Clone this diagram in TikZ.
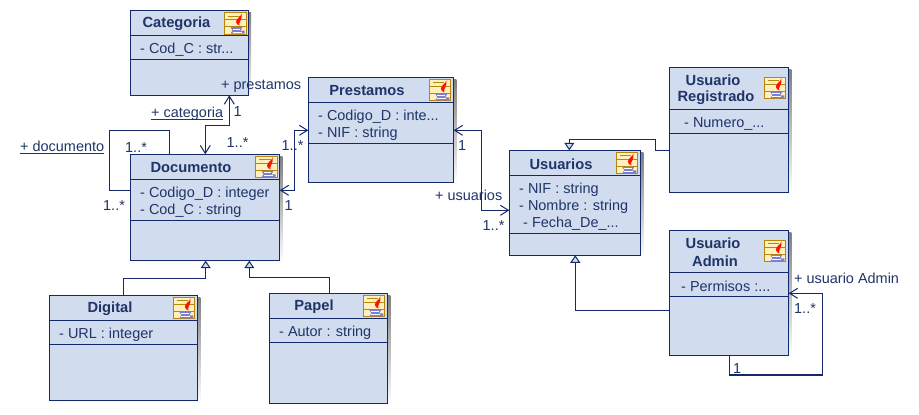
\documentclass[tikz,border=0pt]{standalone}
\usepackage{fontspec}
\setmainfont{Liberation Sans}
\usetikzlibrary{arrows.meta,calc}
\definecolor{boxfill}{HTML}{D1DCEF}
\definecolor{ink}{HTML}{14296B}
\definecolor{txt}{HTML}{1F3468}
\definecolor{shade}{HTML}{A9B3CB}
\definecolor{iconfill}{HTML}{FFF0BE}
\definecolor{iconline}{HTML}{B8860B}
\newcommand{\ulab}[1]{\sbox0{#1}\rlap{\rule[-2.2pt]{\wd0}{0.9pt}}#1}
\tikzset{
  x=1pt,y=-1pt,
  umlbox/.style={draw=ink,fill=boxfill,line width=1.1pt,rectangle,inner sep=0pt,outer sep=0pt,anchor=north west},
  divider/.style={draw=ink,line width=1pt},
  titletxt/.style={font=\fontsize{14.7}{17}\selectfont\bfseries,text=txt,inner sep=0pt,anchor=center,yshift=-1pt},
  attrtxt/.style={font=\fontsize{14.45}{17}\selectfont,text=txt,inner sep=0pt,anchor=west,yshift=-1.5pt},
  lab/.style={font=\fontsize{14.45}{17}\selectfont,text=txt,inner sep=0pt,anchor=west,yshift=-1.5pt},
  assoc/.style={draw=ink,line width=1.1pt},
  nav/.style={assoc,{Straight Barb[length=8pt,width=10pt,line width=1pt]}-{Straight Barb[length=8pt,width=10pt,line width=1pt]}},
  navend/.style={assoc,-{Straight Barb[length=8pt,width=10pt,line width=1pt]}},
  gen/.style={assoc,-{Triangle[open,length=7.5pt,width=10pt,line width=1pt,fill=boxfill]}},
  javaicon/.pic={
    \fill[iconfill] (0,0) rectangle (21.5,21.5);
    \draw[iconline,line width=1pt] (0,0) rectangle (21.5,21.5);
    \draw[iconline,line width=0.8pt] (0,7) -- (21.5,7) (0,14) -- (21.5,14);
    \draw[iconline,line width=0.8pt] (3.5,3.5) -- (15,3.5);
    \fill[gray!55!blue!70] (6,14.5) -- (18,14.5) -- (16,18) -- (20,18) -- (20,21) -- (6,21) -- (8,18) -- cycle;
    \draw[white,line width=0.7pt] (8,16.5) -- (15.5,16.5) (8,19.5) -- (17,19.5);
    \fill[red!85!orange] (17,1) .. controls (17,4) and (11.5,6) .. (11.5,9.5) .. controls (11.5,11.5) and (13.5,12.5) .. (15,13) .. controls (13.5,10) and (18.5,7) .. (17,1) -- cycle;
  }
}
\newcommand{\umlbox}[7]{%
  \fill[shade] (#2+2.6,#3+2.6) rectangle (#4+2.6,#5+2.6);
  \node[umlbox,minimum width=#4pt-#2pt,minimum height=#5pt-#3pt] (#1) at (#2,#3) {};
  \draw[divider] (#1.west |- 0,#6) -- (#1.east |- 0,#6);
  \draw[divider] (#1.west |- 0,#7) -- (#1.east |- 0,#7);
}
\begin{document}
\begin{tikzpicture}
\useasboundingbox (0,0) rectangle (919,415);
\fill[white] (0,0) rectangle (919,415);

\umlbox{cat}{130.3}{10.3}{248.5}{95.3}{35.3}{59.3}
\umlbox{doc}{130.3}{154.3}{279.7}{260.7}{179.3}{220.3}
\umlbox{dig}{49.3}{295.3}{197.7}{400.7}{320.3}{344.3}
\umlbox{pap}{269.3}{293.3}{387.7}{403.3}{318.3}{342.3}
\umlbox{pre}{308.3}{77.3}{453.7}{182.3}{102.3}{143.3}
\umlbox{usu}{509.3}{150.3}{640.7}{255.3}{175.3}{233.3}
\umlbox{reg}{669.3}{67.3}{788.7}{192.3}{109.3}{133.3}
\umlbox{adm}{669.3}{230.3}{788.7}{355.3}{272.3}{296.3}

\pic at (224.5,12.5) {javaicon};
\pic at (255.5,156.3) {javaicon};
\pic at (429.3,79.3) {javaicon};
\pic at (616.3,152.3) {javaicon};
\pic at (764.3,77.3) {javaicon};
\pic at (764.3,240.3) {javaicon};
\pic at (173.3,297.3) {javaicon};
\pic at (363.3,295.3) {javaicon};

\node[titletxt] (tcat) at (176.5,23) {Categoria};
\node[titletxt] (tdoc) at (191,167) {Documento};
\node[titletxt] (tdig) at (110,308) {Digital};
\node[titletxt] (tpap) at (314,306) {Papel};
\node[titletxt] (tpre) at (367,90) {Prestamos};
\node[titletxt] (tusu) at (561,163) {Usuarios};
\node[titletxt] (treg1) at (713,79) {Usuario};
\node[titletxt] (treg2) at (716,97) {Registrado};
\node[titletxt] (tadm1) at (713,242) {Usuario};
\node[titletxt] (tadm2) at (715,260) {Admin};

\node[attrtxt] (a1) at (140,48) {- Cod\_C : str...};
\node[attrtxt] (a2) at (140,192) {- Codigo\_D : integer};
\node[attrtxt] (a3) at (140,209) {- Cod\_C : string};
\node[attrtxt] (a4) at (318,115) {- Codigo\_D : inte...};
\node[attrtxt] (a5) at (318,132) {- NIF : string};
\node[attrtxt] (a6) at (519,188) {- NIF : string};
\node[attrtxt] (a7) at (519,205) {- Nombre : string};
\node[attrtxt] (a8) at (523,222) {- Fecha\_De\_...};
\node[attrtxt] (a9) at (684,122) {- Numero\_...};
\node[attrtxt] (a10) at (681,285) {- Permisos :...};
\node[attrtxt] (a11) at (59,333) {- URL : integer};
\node[attrtxt] (a12) at (279,331) {- Autor : string};

% associations
\draw[nav] (cat.south -| 229.3,0) -- (229.3,125.3) -- (205.3,125.3) -- (doc.north -| 205.3,0);
\draw[assoc] (doc.north -| 169.3,0) -- (169.3,130.3) -- (109.3,130.3) -- (109.3,190.3) -- (doc.west |- 0,190.3);
\draw[nav] (doc.east |- 0,190.3) -- (294.3,190.3) -- (294.3,130.3) -- (pre.west |- 0,130.3);
\draw[nav] (pre.east |- 0,130.3) -- (481.3,130.3) -- (481.3,210.3) -- (usu.west |- 0,210.3);
\draw[navend] (adm.south -| 729.3,0) -- (729.3,375) -- (822.3,375) -- (822.3,293.3) -- (adm.east |- 0,293.3);
% generalisations
\draw[gen] (reg.west |- 0,150.3) -- (655.7,150.3) -- (655.7,139.3) -- (569.3,139.3) -- (usu.north -| 569.3,0);
\draw[gen] (adm.west |- 0,310.3) -- (575.3,310.3) -- (usu.south -| 575.3,0);
\draw[gen] (dig.north -| 123.3,0) -- (123.3,278.3) -- (205.7,278.3) -- (doc.south -| 205.7,0);
\draw[gen] (pap.north -| 329.3,0) -- (329.3,277.3) -- (249.3,277.3) -- (doc.south -| 249.3,0);

% labels
\node[lab] (l1) at (221,85) {+ prestamos};
\node[lab] (l2) at (151,112) {\ulab{+ categoria}};
\node[lab] (l3) at (20,146) {\ulab{+ documento}};
\node[lab] (l4) at (233.5,110) {1};
\node[lab] (l5) at (226.5,141) {1..*};
\node[lab] (l6) at (125,146) {1..*};
\node[lab] (l7) at (103,204) {1..*};
\node[lab] (l8) at (284.5,204) {1};
\node[lab] (l9) at (281.5,144) {1..*};
\node[lab] (l10) at (458,144) {1};
\node[lab] (l11) at (435,194) {+ usuarios};
\node[lab] (l12) at (482.5,224) {1..*};
\node[lab] (l13) at (794,277) {+ usuario Admin};
\node[lab] (l14) at (794,307) {1..*};
\node[lab] (l15) at (733,367.5) {1};
\end{tikzpicture}
\end{document}
